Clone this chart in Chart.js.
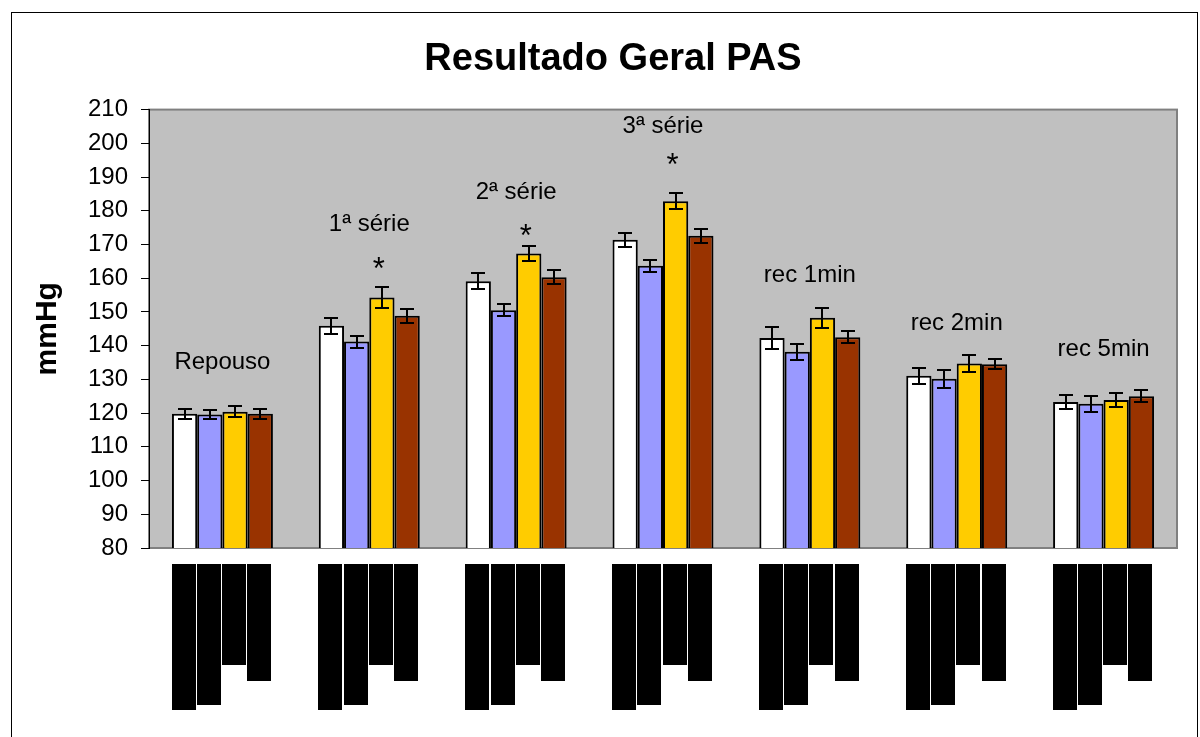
<!DOCTYPE html>
<html>
<head>
<meta charset="utf-8">
<script src="https://cdn.jsdelivr.net/npm/chart.js@4.4.0/dist/chart.umd.min.js"></script>
<style>
html, body { margin: 0; padding: 0; background: #fff; }
#wrap { width: 1200px; height: 737px; position: relative; }
</style>
</head>
<body>
<div id="wrap"><canvas id="chart"></canvas></div>
<script>
// categories (group captions drawn above each group)
const groups = ['Repouso', '1ª série', '2ª série', '3ª série', 'rec 1min', 'rec 2min', 'rec 5min'];

// mean values (mmHg) and error bar half-lengths, per bar series
const serie1 = [119.8, 145.9, 159.1, 171.4, 142.3, 131.1, 123.3];
const serie1Err = [1.5, 2.4, 2.4, 2.1, 3.3, 2.4, 2.1];
const serie2 = [119.6, 141.2, 150.5, 163.7, 138.2, 130.2, 122.8];
const serie2Err = [1.2, 1.8, 1.8, 1.8, 2.4, 2.7, 2.4];
const serie3 = [120.4, 154.3, 167.3, 182.8, 148.3, 134.7, 123.9];
const serie3Err = [1.7, 3.0, 2.3, 2.4, 3.0, 2.4, 2.1];
const serie4 = [119.8, 148.9, 160.3, 172.6, 142.5, 134.5, 125.0];
const serie4Err = [1.5, 2.1, 2.1, 2.1, 1.7, 1.5, 1.8];

// where the group captions and significance marks sit (mmHg)
const groupLabelLevel = [135, 175.9, 185.4, 205, 160.8, 146.5, 138.8];
const asteriskLevel = [null, 165, 175, 196, null, null, null];

// y axis
const yMin = 80;
const yMax = 210;
const yStep = 10;

const FONT = 'Liberation Sans, Arial, sans-serif';

const plotBackground = {
    id: 'plotBackground',
    beforeDraw(chart) {
        const { ctx, chartArea: a } = chart;
        ctx.save();
        // outer chart frame
        ctx.strokeStyle = '#000';
        ctx.lineWidth = 1;
        ctx.strokeRect(11.5, 12.5, 1186, 740);
        // plot area
        ctx.fillStyle = '#c0c0c0';
        ctx.fillRect(a.left, a.top, a.right - a.left, a.bottom - a.top);
        ctx.strokeStyle = '#808080';
        ctx.lineWidth = 2;
        ctx.strokeRect(a.left, a.top, a.right - a.left, a.bottom - a.top);
        ctx.restore();
    }
};

const errorBars = {
    id: 'errorBars',
    afterDatasetsDraw(chart) {
        const ctx = chart.ctx;
        const y = chart.scales.y;
        ctx.save();
        ctx.strokeStyle = '#000';
        ctx.lineWidth = 2;
        chart.data.datasets.forEach((ds, i) => {
            chart.getDatasetMeta(i).data.forEach((bar, j) => {
                const v = ds.data[j];
                const e = ds.errors[j];
                const top = Math.round(y.getPixelForValue(v + e));
                const bot = Math.round(y.getPixelForValue(v - e));
                const x = Math.round(bar.x);
                ctx.beginPath();
                ctx.moveTo(x, top); ctx.lineTo(x, bot);
                ctx.moveTo(x - 7, top); ctx.lineTo(x + 7, top);
                ctx.moveTo(x - 7, bot); ctx.lineTo(x + 7, bot);
                ctx.stroke();
            });
        });
        ctx.restore();
    }
};

const groupCaptions = {
    id: 'groupCaptions',
    afterDatasetsDraw(chart) {
        const { ctx, scales: { x, y } } = chart;
        ctx.save();
        ctx.fillStyle = '#000';
        ctx.textAlign = 'center';
        ctx.textBaseline = 'middle';
        ctx.font = '24px ' + FONT;
        groups.forEach((g, i) => {
            ctx.fillText(g, x.getPixelForValue(i), y.getPixelForValue(groupLabelLevel[i]));
        });
        // asterisks above the third series
        const meta = chart.getDatasetMeta(2);
        ctx.font = '31px ' + FONT;
        ctx.textBaseline = 'alphabetic';
        asteriskLevel.forEach((lv, i) => {
            if (lv === null) return;
            ctx.fillText('*', meta.data[i].x - 3, y.getPixelForValue(lv) + 18);
        });
        ctx.restore();
    }
};

// series names under the bars are blacked out in the source
const hiddenNames = {
    id: 'hiddenNames',
    afterDraw(chart, args, opts) {
        const { ctx, chartArea } = chart;
        ctx.save();
        ctx.fillStyle = '#000';
        chart.data.datasets.forEach((ds, i) => {
            chart.getDatasetMeta(i).data.forEach((bar) => {
                ctx.fillRect(Math.round(bar.x - 13), chartArea.bottom + 16, 24, opts.heights[i]);
            });
        });
        ctx.restore();
    }
};

function barSet(data, errors, color) {
    return {
        data: data,
        errors: errors,
        backgroundColor: color,
        borderColor: '#000',
        borderWidth: 2,
        borderSkipped: false,
        categoryPercentage: 0.6875,
        barPercentage: 1.0
    };
}

new Chart(document.getElementById('chart'), {
    type: 'bar',
    data: {
        labels: groups,
        datasets: [
            barSet(serie1, serie1Err, '#ffffff'),
            barSet(serie2, serie2Err, '#9999ff'),
            barSet(serie3, serie3Err, '#ffcc00'),
            barSet(serie4, serie4Err, '#993300')
        ]
    },
    options: {
        responsive: true,
        maintainAspectRatio: false,
        animation: false,
        layout: { padding: { left: 49, right: 23, top: 0, bottom: 189 } },
        plugins: {
            legend: { display: false },
            tooltip: { enabled: false },
            title: {
                display: true,
                text: 'Resultado Geral PAS',
                color: '#000',
                font: { family: FONT, size: 38, weight: 'bold' },
                padding: { top: 37, bottom: 27 }
            },
            hiddenNames: { heights: [146, 141, 101, 117] }
        },
        scales: {
            x: {
                display: false
            },
            y: {
                min: yMin,
                max: yMax,
                ticks: {
                    stepSize: yStep,
                    color: '#000',
                    padding: 13,
                    font: { family: FONT, size: 24 }
                },
                grid: {
                    drawOnChartArea: false,
                    drawTicks: true,
                    tickLength: 8,
                    color: '#000'
                },
                border: { display: true, color: '#000', width: 1 },
                title: {
                    display: true,
                    text: 'mmHg',
                    color: '#000',
                    font: { family: FONT, size: 30, weight: 'bold' },
                    padding: { top: -19, bottom: 0 }
                },
                afterFit(scale) { scale.width = 100; }
            }
        }
    },
    plugins: [plotBackground, errorBars, groupCaptions, hiddenNames]
});
</script>
</body>
</html>
